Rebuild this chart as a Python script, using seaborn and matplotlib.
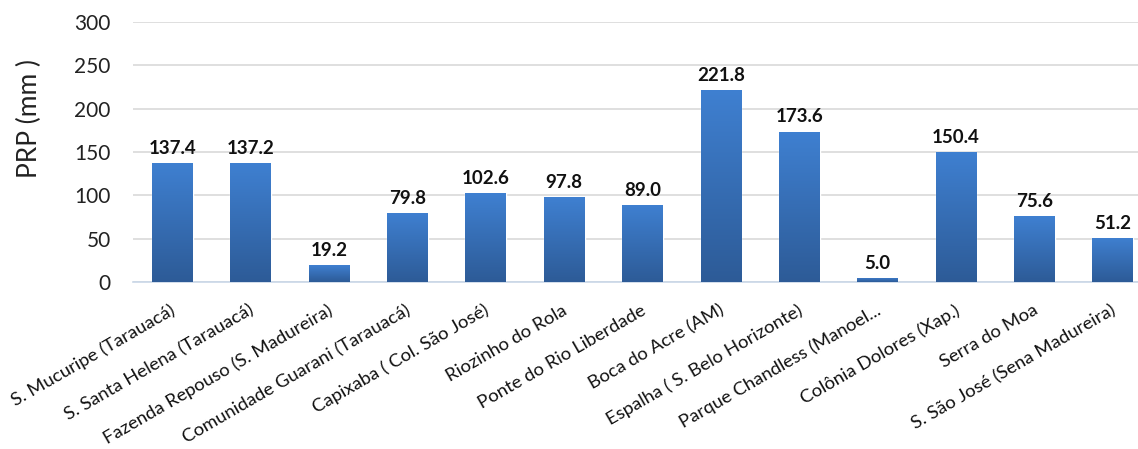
import numpy as np
import pandas as pd
import matplotlib
matplotlib.use("Agg")
import matplotlib.pyplot as plt
import matplotlib.transforms as mtransforms
import seaborn as sns
from matplotlib.colors import LinearSegmentedColormap

# --- Data ---
stations = [
    "S. Mucuripe (Tarauacá)",
    "S. Santa Helena (Tarauacá)",
    "Fazenda Repouso (S. Madureira)",
    "Comunidade Guarani (Tarauacá)",
    "Capixaba ( Col. São José)",
    "Riozinho do Rola",
    "Ponte do Rio Liberdade",
    "Boca do Acre (AM)",
    "Espalha ( S. Belo Horizonte)",
    "Parque Chandless (Manoel...",
    "Colônia Dolores (Xap.)",
    "Serra do Moa",
    "S. São José (Sena Madureira)",
]
prp = [137.4, 137.2, 19.2, 79.8, 102.6, 97.8, 89.0, 221.8, 173.6, 5.0, 150.4, 75.6, 51.2]
y_ticks = [0, 50, 100, 150, 200, 250, 300]

df = pd.DataFrame({"station": stations, "prp": prp})

sns.set_theme(style="white")
plt.rcParams["font.family"] = ["Lato", "DejaVu Sans"]

fig, ax = plt.subplots(figsize=(11.38, 4.49), dpi=100)
# the original chart is cut off at the right edge, so the axes run past it
fig.subplots_adjust(left=0.1169, right=1.0123, top=0.951, bottom=0.372)

sns.barplot(data=df, x="station", y="prp", color="#3a76c4", width=0.52,
            saturation=1, ax=ax, zorder=2)

# vertical gradient fill inside each bar
cmap = LinearSegmentedColormap.from_list("bar", ["#2d5b97", "#3f80d1"])
grad = np.linspace(0, 1, 256).reshape(-1, 1)
for p in ax.patches:
    x0, y0 = p.get_x(), p.get_y()
    w, h = p.get_width(), p.get_height()
    im = ax.imshow(grad, cmap=cmap, origin="lower", aspect="auto",
                   extent=[x0, x0 + w, y0, y0 + h], zorder=3)
    im.set_clip_path(p)
    p.set_facecolor("none")

for i, v in enumerate(prp):
    ax.text(i, v + 7, f"{v:.1f}", ha="center", va="bottom",
            fontsize=13.5, fontweight="bold", color="#111111", zorder=4)

ax.set_xlim(-0.5, len(stations) - 0.5)
ax.set_ylim(0, 300)
ax.set_yticks(y_ticks)
ax.set_yticklabels([str(t) for t in y_ticks], fontsize=15, color="#222222")
ax.set_ylabel("PRP (mm )", fontsize=19, color="#222222")
ax.yaxis.set_label_coords(-0.089, 0.63)
ax.set_xlabel("")

# category labels as rotated texts, right end just under each bar
ax.set_xticks(range(len(stations)))
ax.set_xticklabels([])
base = ax.get_xaxis_transform()
shift = mtransforms.ScaledTranslation(0.02, -0.27, fig.dpi_scale_trans)
for i, name in enumerate(stations):
    ax.text(i, 0, name, transform=base + shift, rotation=30,
            rotation_mode="anchor", ha="right", va="center",
            fontsize=13.3, color="#111111", clip_on=False)

ax.tick_params(axis="both", length=0)
ax.tick_params(axis="y", pad=16)

ax.yaxis.grid(True, color="#d9d9d9", linewidth=1.2, zorder=0)
ax.xaxis.grid(False)
for s in ["top", "right", "left"]:
    ax.spines[s].set_visible(False)
ax.spines["bottom"].set_color("#c9d7e8")
ax.spines["bottom"].set_linewidth(1.2)

fig.savefig("out.png", dpi=100)
